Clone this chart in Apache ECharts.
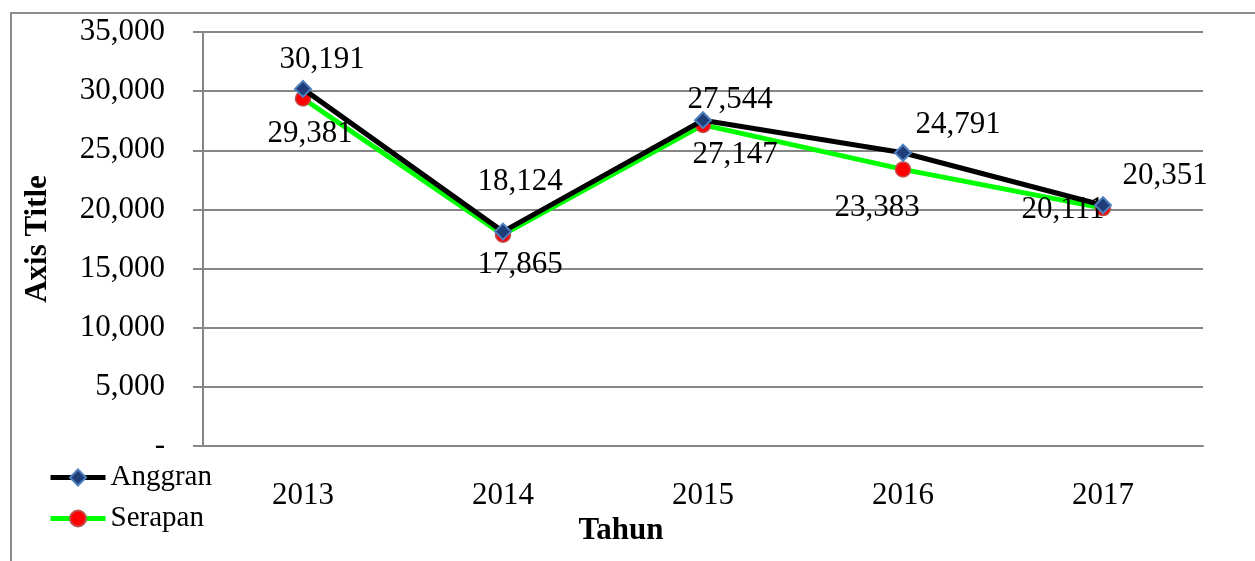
<!DOCTYPE html>
<html>

<head>
    <meta charset="utf-8">
    <title>Anggran dan Serapan</title>
    <script src="https://cdn.jsdelivr.net/npm/echarts@6/dist/echarts.min.js"></script>
    <style>
        body { margin: 0; background: #fff; }
    </style>
</head>

<body>
    <div id="main" style="width: 1255px;height:561px;"></div>
    <script type="text/javascript">
        var years = ['2013', '2014', '2015', '2016', '2017'];
        var anggran = [30191, 18124, 27544, 24791, 20351];
        var serapan = [29381, 17865, 27147, 23383, 20111];
        // label offsets, taken from where the labels sit in the picture
        var anggranOffset = [[19, -29], [17, -50], [27, -20], [55, -28], [62, -29]];
        var serapanOffset = [[7, 35], [17, 30], [32, 30], [-26, 38], [-40, 2]];

        var serif = '"Liberation Serif", "Times New Roman", serif';
        var fs = 31;
        var fmt = function (v) {
            return v === 0 ? '-' : v.toLocaleString('en-US');
        };

        function withLabels(values, offsets) {
            return values.map(function (v, i) {
                return {
                    value: v,
                    label: { offset: offsets[i] }
                };
            });
        }

        var myChart = echarts.init(document.getElementById('main'));

        var option = {
            animation: false,
            textStyle: { fontFamily: serif, color: '#000' },
            grid: {
                left: 203,
                right: 52,
                top: 32,
                bottom: 115
            },
            graphic: [{
                type: 'rect',
                shape: { x: 11, y: 13, width: 1400, height: 700 },
                style: { fill: 'none', stroke: '#8c8c8c', lineWidth: 2 },
                silent: true
            }],
            legend: {
                orient: 'vertical',
                left: 48,
                top: 463,
                padding: 0,
                itemWidth: 55,
                itemHeight: 20,
                itemGap: 12,
                lineStyle: { width: 5 },
                textStyle: { fontFamily: serif, fontSize: 29, color: '#000' },
                data: ['Anggran', 'Serapan']
            },
            xAxis: {
                type: 'category',
                data: years,
                name: 'Tahun',
                nameLocation: 'middle',
                nameGap: 68,
                nameTextStyle: {
                    fontFamily: serif, fontSize: fs, fontWeight: 'bold', color: '#000',
                    padding: [0, 164, 0, 0]
                },
                axisLine: { lineStyle: { color: '#868686', width: 2 } },
                axisTick: { show: false },
                axisLabel: { fontFamily: serif, fontSize: fs, color: '#000', margin: 34 }
            },
            yAxis: {
                type: 'value',
                min: 0,
                max: 35000,
                interval: 5000,
                name: 'Axis Title',
                nameLocation: 'middle',
                nameGap: 150,
                nameTextStyle: { fontFamily: serif, fontSize: fs, fontWeight: 'bold', color: '#000' },
                axisLine: { show: true, lineStyle: { color: '#868686', width: 2 } },
                axisTick: { show: true, length: 10, lineStyle: { color: '#868686', width: 2 } },
                axisLabel: { fontFamily: serif, fontSize: fs, color: '#000', margin: 38, formatter: fmt },
                splitLine: { lineStyle: { color: '#868686', width: 2 } }
            },
            series: [{
                name: 'Anggran',
                type: 'line',
                data: withLabels(anggran, anggranOffset),
                symbol: 'diamond',
                symbolSize: 16,
                z: 3,
                lineStyle: { color: '#000', width: 5 },
                itemStyle: { color: '#1f3d78', borderColor: '#4f81bd', borderWidth: 2 },
                label: {
                    show: true,
                    position: 'inside',
                    fontFamily: serif,
                    fontSize: fs,
                    color: '#000',
                    formatter: function (p) { return fmt(p.value); }
                }
            }, {
                name: 'Serapan',
                type: 'line',
                data: withLabels(serapan, serapanOffset),
                symbol: 'circle',
                symbolSize: 15,
                z: 2,
                lineStyle: { color: '#00ff00', width: 5 },
                itemStyle: { color: '#ff0000', borderColor: '#c0504d', borderWidth: 1.5 },
                label: {
                    show: true,
                    position: 'inside',
                    fontFamily: serif,
                    fontSize: fs,
                    color: '#000',
                    formatter: function (p) { return fmt(p.value); }
                }
            }]
        };

        myChart.setOption(option);
    </script>
</body>

</html>
